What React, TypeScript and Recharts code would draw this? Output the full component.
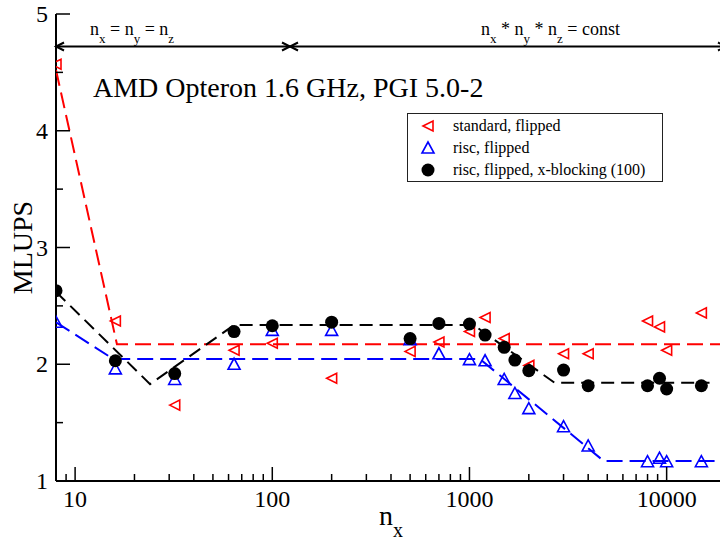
import React from 'react';
import { ComposedChart, Scatter, XAxis, YAxis, Legend, Label } from 'recharts';

const FONT = "'Liberation Serif', 'Times New Roman', Times, serif";

// ---- measured data (n_x vs MLUPS) ----
const nxStandard = [8, 16, 32, 64, 100, 200, 500, 700, 1000, 1200, 1500, 2000, 3000, 4000, 8000, 9200, 10000, 15000];
const mlupsStandard = [4.57, 2.37, 1.65, 2.12, 2.18, 1.88, 2.11, 2.19, 2.28, 2.4, 2.22, 1.99, 2.09, 2.09, 2.37, 2.32, 2.12, 2.44];

const nxRisc = [8, 16, 32, 64, 100, 200, 500, 700, 1000, 1200, 1500, 1700, 2000, 3000, 4000, 8000, 9200, 10000, 15000];
const mlupsRisc = [2.36, 1.96, 1.87, 2.0, 2.29, 2.29, 2.21, 2.09, 2.04, 2.03, 1.87, 1.75, 1.62, 1.465, 1.3, 1.165, 1.195, 1.165, 1.165];

const nxBlocking = [8, 16, 32, 64, 100, 200, 500, 700, 1000, 1200, 1500, 1700, 2000, 3000, 4000, 8000, 9200, 10000, 15000];
const mlupsBlocking = [2.63, 2.03, 1.92, 2.28, 2.33, 2.36, 2.22, 2.35, 2.345, 2.25, 2.145, 2.036, 1.945, 1.95, 1.816, 1.816, 1.88, 1.788, 1.816];

// ---- dashed guide lines ----
const fitStandardX = [8, 16.3, 20000];
const fitStandardY = [4.52, 2.171, 2.171];
const fitRiscX = [8, 15.6, 1130, 4800, 20000];
const fitRiscY = [2.36, 2.045, 2.045, 1.171, 1.171];
const fitBlockingX = [8, 24, 64, 1050, 2700, 16500];
const fitBlockingY = [2.62, 1.83, 2.336, 2.336, 1.842, 1.842];

// ---- ticks ----
const xMajorTicks = [10, 100, 1000, 10000];
const xMinorTicks = [9, 20, 30, 40, 50, 60, 70, 80, 90, 200, 300, 400, 500, 600, 700, 800, 900, 2000, 3000, 4000, 5000, 6000, 7000, 8000, 9000];
const yTicks = [1, 1.5, 2, 2.5, 3, 3.5, 4, 4.5, 5];

const legendItems = [
  { name: 'standard, flipped', kind: 'std' },
  { name: 'risc, flipped', kind: 'risc' },
  { name: 'risc, flipped, x-blocking (100)', kind: 'blk' },
];

const zip = (xs: number[], ys: number[]) => xs.map((x, i) => ({ x, y: ys[i] }));

const stdData = zip(nxStandard, mlupsStandard);
const riscData = zip(nxRisc, mlupsRisc);
const blkData = zip(nxBlocking, mlupsBlocking);
const fitStd = zip(fitStandardX, fitStandardY);
const fitRisc = zip(fitRiscX, fitRiscY);
const fitBlk = zip(fitBlockingX, fitBlockingY);

const xTicks = [...xMinorTicks, ...xMajorTicks].sort((a, b) => a - b);

const RED = '#ff0000';
const BLUE = '#0000ff';

const LeftTri = ({ cx, cy }: any) => (
  <polygon points={`${cx - 5},${cy} ${cx + 5},${cy - 5} ${cx + 5},${cy + 5}`} fill="none" stroke={RED} strokeWidth={1.6} />
);
const UpTri = ({ cx, cy }: any) => (
  <polygon points={`${cx},${cy - 6} ${cx - 6},${cy + 5} ${cx + 6},${cy + 5}`} fill="none" stroke={BLUE} strokeWidth={1.6} />
);
const Dot = ({ cx, cy }: any) => <circle cx={cx} cy={cy} r={6.5} fill="#000" />;
const NoShape = () => <g />;

const isMajorX = (v: number) => xMajorTicks.includes(v);

const BottomTick = ({ x, y, payload }: any) => {
  const major = isMajorX(payload.value);
  return (
    <g>
      <line x1={x} x2={x} y1={y} y2={y - (major ? 14 : 7)} stroke="#000" strokeWidth={1.5} />
      {major && (
        <text x={x} y={y + 26} textAnchor="middle" fontSize={24} fontFamily={FONT} fill="#000">
          {payload.value}
        </text>
      )}
    </g>
  );
};
const TopTick = ({ x, y, payload }: any) => {
  const major = isMajorX(payload.value);
  return <line x1={x} x2={x} y1={y} y2={y + (major ? 14 : 7)} stroke="#000" strokeWidth={1.5} />;
};
const LeftTick = ({ x, y, payload }: any) => {
  const major = Number.isInteger(payload.value);
  return (
    <g>
      <line x1={x} x2={x + (major ? 14 : 7)} y1={y} y2={y} stroke="#000" strokeWidth={1.5} />
      {major && (
        <text x={x - 8} y={y + 8} textAnchor="end" fontSize={24} fontFamily={FONT} fill="#000">
          {payload.value}
        </text>
      )}
    </g>
  );
};
const RightTick = ({ x, y, payload }: any) => {
  const major = Number.isInteger(payload.value);
  return <line x1={x} x2={x - (major ? 14 : 7)} y1={y} y2={y} stroke="#000" strokeWidth={1.5} />;
};

const LegendBox = () => (
  <div
    style={{
      width: 254,
      height: 67,
      border: '1px solid #222',
      background: '#fff',
      fontFamily: FONT,
      fontSize: 16,
      color: '#000',
      position: 'relative',
    }}
  >
    {legendItems.map((it, i) => (
      <div key={it.name} style={{ position: 'absolute', left: 0, top: 1 + i * 22, height: 22, width: 254 }}>
        <svg width={40} height={22} style={{ position: 'absolute', left: 0, top: 0 }}>
          {it.kind === 'std' && <LeftTri cx={20} cy={11} />}
          {it.kind === 'risc' && <UpTri cx={20} cy={11} />}
          {it.kind === 'blk' && <Dot cx={20} cy={11} />}
        </svg>
        <span style={{ position: 'absolute', left: 45, top: 1, lineHeight: '20px', whiteSpace: 'nowrap' }}>{it.name}</span>
      </div>
    ))}
  </div>
);

const XLabel = ({ viewBox }: any) => (
  <text x={viewBox.x + viewBox.width / 2} y={viewBox.y + 44} textAnchor="middle" fontFamily={FONT} fontSize={28} fill="#000">
    n<tspan dy={12} fontSize={20}>x</tspan>
  </text>
);
const YLabel = ({ viewBox }: any) => {
  const cx = viewBox.x + 32;
  const cy = viewBox.y + viewBox.height / 2;
  return (
    <text x={cx} y={cy} textAnchor="middle" fontFamily={FONT} fontSize={28} fill="#000" transform={`rotate(-90, ${cx}, ${cy})`}>
      MLUPS
    </text>
  );
};

export default function App() {
  return (
    <div style={{ position: 'absolute', left: 0, top: 0, width: 720, height: 543, overflow: 'hidden', background: '#fff' }}>
      <ComposedChart width={740} height={543} margin={{ top: 14, right: 14, bottom: 0, left: 0 }}>
        <XAxis
          xAxisId={0}
          dataKey="x"
          type="number"
          scale="log"
          domain={[8, 20000]}
          allowDataOverflow
          ticks={xTicks}
          interval={0}
          height={62}
          tickSize={0}
          tickMargin={0}
          tickLine={false}
          tick={<BottomTick />}
          axisLine={{ stroke: '#000', strokeWidth: 2 }}
        >
          <Label content={<XLabel />} />
        </XAxis>
        <XAxis
          xAxisId="top"
          orientation="top"
          dataKey="x"
          type="number"
          scale="log"
          domain={[8, 20000]}
          allowDataOverflow
          ticks={xTicks}
          interval={0}
          height={0}
          tickSize={0}
          tickMargin={0}
          tickLine={false}
          tick={<TopTick />}
          axisLine={{ stroke: '#000', strokeWidth: 2 }}
        />
        <YAxis
          yAxisId={0}
          dataKey="y"
          type="number"
          domain={[1, 5]}
          allowDataOverflow
          ticks={yTicks}
          interval={0}
          width={56}
          tickSize={0}
          tickMargin={0}
          tickLine={false}
          tick={<LeftTick />}
          axisLine={{ stroke: '#000', strokeWidth: 2 }}
        >
          <Label content={<YLabel />} />
        </YAxis>
        <YAxis
          yAxisId="right"
          orientation="right"
          dataKey="y"
          type="number"
          domain={[1, 5]}
          allowDataOverflow
          ticks={yTicks}
          interval={0}
          width={0}
          tickSize={0}
          tickMargin={0}
          tickLine={false}
          tick={<RightTick />}
          axisLine={{ stroke: '#000', strokeWidth: 2 }}
        />
        <Legend
          layout="vertical"
          align="center"
          verticalAlign="middle"
          content={<LegendBox />}
          wrapperStyle={{ left: 407, top: 113, width: 256, height: 69 }}
        />

        <Scatter name="fit standard" data={fitStd} fill="none" shape={<NoShape />} line={{ stroke: RED, strokeWidth: 2, strokeDasharray: '16 7', fill: 'none' }} isAnimationActive={false} legendType="none" />
        <Scatter name="fit risc" data={fitRisc} fill="none" shape={<NoShape />} line={{ stroke: BLUE, strokeWidth: 2, strokeDasharray: '16 7', fill: 'none' }} isAnimationActive={false} legendType="none" />
        <Scatter name="fit blocking" data={fitBlk} fill="none" shape={<NoShape />} line={{ stroke: '#000', strokeWidth: 2, strokeDasharray: '13 7', fill: 'none' }} isAnimationActive={false} legendType="none" />

        <Scatter name="standard, flipped" data={stdData} fill={RED} shape={<LeftTri />} isAnimationActive={false} />
        <Scatter name="risc, flipped" data={riscData} fill={BLUE} shape={<UpTri />} isAnimationActive={false} />
        <Scatter name="risc, flipped, x-blocking (100)" data={blkData} fill="#000" shape={<Dot />} isAnimationActive={false} />
      </ComposedChart>

      <svg width={720} height={543} style={{ position: 'absolute', left: 0, top: 0, pointerEvents: 'none' }}>
        <g stroke="#000" strokeWidth={2} fill="none">
          <line x1={56} y1={46.5} x2={726} y2={46.5} />
          <polyline points="64,42.5 56,46.5 64,50.5" />
          <polyline points="282,42.5 290,46.5 282,50.5" />
          <polyline points="298,42.5 290,46.5 298,50.5" />
          <polyline points="718,42.5 726,46.5 718,50.5" />
        </g>
        <text x={90} y={35} fontFamily={FONT} fontSize={18} fill="#000">
          n<tspan dy={8} fontSize={13}>x</tspan>
          <tspan dy={-8}> = n</tspan>
          <tspan dy={8} fontSize={13}>y</tspan>
          <tspan dy={-8}> = n</tspan>
          <tspan dy={8} fontSize={13}>z</tspan>
        </text>
        <text x={481} y={35} fontFamily={FONT} fontSize={18} fill="#000">
          n<tspan dy={8} fontSize={13}>x</tspan>
          <tspan dy={-8}> * n</tspan>
          <tspan dy={8} fontSize={13}>y</tspan>
          <tspan dy={-8}> * n</tspan>
          <tspan dy={8} fontSize={13}>z</tspan>
          <tspan dy={-8}> = const</tspan>
        </text>
        <text x={93} y={97} fontFamily={FONT} fontSize={28} fill="#000">
          AMD Opteron 1.6 GHz, PGI 5.0-2
        </text>
      </svg>
    </div>
  );
}
